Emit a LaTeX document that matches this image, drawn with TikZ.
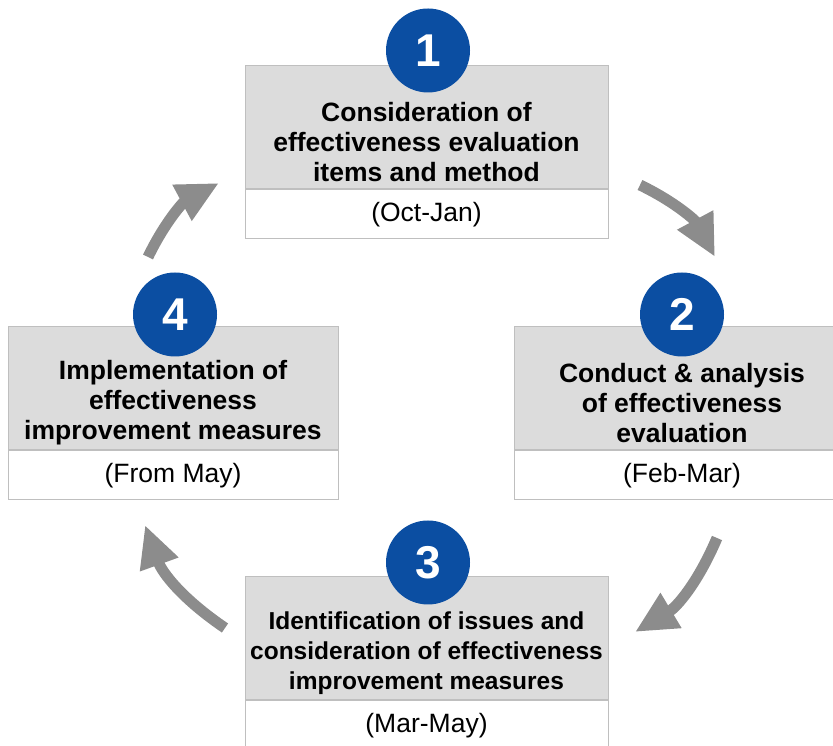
\documentclass[tikz,border=0pt]{standalone}
\usepackage{fontspec}
\setmainfont{Liberation Sans}
\usetikzlibrary{arrows.meta,positioning}
\definecolor{stepblue}{HTML}{0B4EA2}
\definecolor{headgray}{HTML}{DCDCDC}
\definecolor{boxline}{HTML}{BFBFBF}
\definecolor{cycgray}{HTML}{8C8C8C}
\tikzset{
  head/.style={draw=boxline, line width=1pt, fill=headgray, minimum height=123pt, inner sep=0pt},
  when/.style={draw=boxline, line width=1pt, fill=white, minimum height=49pt, inner sep=0pt,
               font=\fontsize{26.5}{30}\selectfont},
  title/.style={font=\bfseries\fontsize{#1}{30}\selectfont, align=center, inner sep=0pt},
  title/.default=26.5,
  num/.style={circle, fill=stepblue, minimum size=84pt, inner sep=0pt, text=white,
              font=\bfseries\fontsize{46}{46}\selectfont},
  cyc/.style={draw=cycgray, line width=11pt, -{Triangle[width=38pt, length=42pt]}},
}

\begin{document}
\begin{tikzpicture}[x=1pt, y=1pt]
\useasboundingbox (0,0) rectangle (833,746);

% step 1
\node[head, minimum width=363pt] (h1) at (426.5,618.5) {};
\node[title] (t1) at ([yshift=-14.5pt]h1.center) {Consideration of\\ effectiveness evaluation\\ items and method};
\node[when, minimum width=363pt, below=0pt of h1] (d1) {(Oct-Jan)};
\node[num] (n1) at ([xshift=1.5pt, yshift=15pt]h1.north) {1};

% step 2
\node[head, minimum width=336pt] (h2) at (682,357.5) {};
\node[title] (t2) at ([yshift=-14.5pt]h2.center) {Conduct \& analysis\\ of effectiveness\\ evaluation};
\node[when, minimum width=336pt, below=0pt of h2] (d2) {(Feb-Mar)};
\node[num] (n2) at ([yshift=12pt]h2.north) {2};

% step 3
\node[head, minimum width=363pt] (h3) at (426.5,107.5) {};
\node[title=24.5] (t3) at ([yshift=-14.5pt]h3.center) {Identification of issues and\\ consideration of effectiveness\\ improvement measures};
\node[when, minimum width=363pt, below=0pt of h3] (d3) {(Mar-May)};
\node[num] (n3) at ([xshift=1.5pt, yshift=14pt]h3.north) {3};

% step 4
\node[head, minimum width=330pt] (h4) at (173,357.5) {};
\node[title] (t4) at ([yshift=-14.5pt]h4.center) {Implementation of\\ effectiveness\\ improvement measures};
\node[when, minimum width=330pt, below=0pt of h4] (d4) {(From May)};
\node[num] (n4) at ([xshift=2pt, yshift=12pt]h4.north) {4};

% cycle arrows
\coordinate (a1s) at (640,561);  \coordinate (a1e) at (715,489);
\coordinate (a2s) at (717,208);  \coordinate (a2e) at (635,114);
\coordinate (a3s) at (225,118);  \coordinate (a3e) at (145,221);
\coordinate (a4s) at (148,489);  \coordinate (a4e) at (219,563);
\draw[cyc] (a1s) to[bend left=18] (a1e);
\draw[cyc] (a2s) to[bend left=18] (a2e);
\draw[cyc] (a3s) to[bend left=18] (a3e);
\draw[cyc] (a4s) to[bend left=18] (a4e);
\end{tikzpicture}
\end{document}
